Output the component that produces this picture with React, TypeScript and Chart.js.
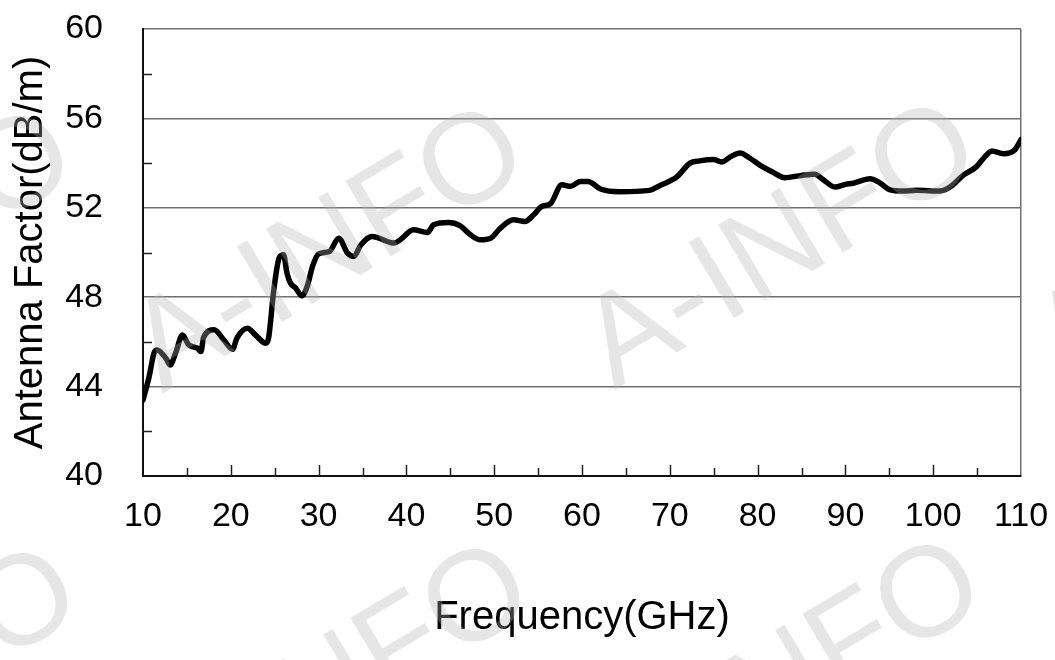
import { useEffect, useRef } from 'react'
import { Chart, registerables } from 'chart.js'

Chart.register(...registerables)

// frequency (GHz) and antenna factor (dB/m)
const freq = [
  10.0, 10.7, 11.25, 11.6, 12.6, 13.1, 13.7, 14.5, 15.2, 16.2, 16.6, 16.9, 18.1, 19.2, 20.2, 20.7,
  21.9, 22.8, 24.0, 24.3, 24.9, 25.5, 26.0, 26.4, 26.8, 27.4, 28.1, 28.7, 29.3, 30.0, 31.2, 32.3,
  33.3, 34.0, 34.8, 36.1, 36.8, 38.6, 39.3, 40.8, 42.4, 43.1, 44.8, 46.1, 47.3, 48.4, 49.6, 50.7,
  52.2, 53.5, 54.5, 55.4, 56.4, 57.7, 58.7, 59.8, 60.7, 62.1, 64.3, 67.7, 68.9, 70.8, 72.3, 73.4,
  75.0, 75.9, 77.0, 78.0, 79.0, 80.3, 81.7, 83.1, 85.0, 86.5, 87.5, 88.8, 90.0, 90.9, 92.8, 93.8,
  95.1, 96.5, 98.1, 100.8, 102.0, 103.4, 104.9, 105.7, 106.7, 108.0, 109.3, 110.0,
]
const antennaFactor = [
  43.4, 44.45, 45.5, 45.64, 45.27, 44.97, 45.49, 46.31, 45.87, 45.72, 45.57, 46.2, 46.54, 46.09, 45.67, 46.17,
  46.61, 46.31, 45.94, 46.17, 48.33, 49.75, 49.9, 49.08, 48.63, 48.4, 48.06, 48.48, 49.37, 49.94, 50.04, 50.64,
  49.97, 49.82, 50.34, 50.72, 50.65, 50.42, 50.57, 51.02, 50.9, 51.24, 51.34, 51.2, 50.79, 50.57, 50.64, 51.09,
  51.46, 51.39, 51.69, 52.06, 52.18, 53.03, 52.96, 53.18, 53.18, 52.84, 52.72, 52.78, 53.0, 53.38, 54.0, 54.1,
  54.16, 54.05, 54.3, 54.45, 54.25, 53.9, 53.6, 53.35, 53.45, 53.5, 53.25, 52.93, 53.05, 53.1, 53.3, 53.15,
  52.8, 52.75, 52.78, 52.75, 52.95, 53.45, 53.83, 54.2, 54.54, 54.42, 54.6, 55.05,
]

const xRange = [10, 110]
const yRange = [40, 60]
const watermark = 'A-INFO'

const FONT = "'Liberation Sans', Arial, sans-serif"

// tick marks point into the plot, like the original
const inwardTicks = {
  id: 'inwardTicks',
  beforeDatasetsDraw(chart: any) {
    const { ctx, chartArea, scales } = chart
    const x = scales.x
    const y = scales.y
    ctx.save()
    ctx.strokeStyle = '#222'
    ctx.lineWidth = 1.5
    ctx.beginPath()
    for (let v = x.min + 5; v < x.max; v += 5) {
      const px = Math.round(x.getPixelForValue(v)) + 0.5
      const len = v % 10 === 0 ? 11 : 8
      ctx.moveTo(px, chartArea.bottom)
      ctx.lineTo(px, chartArea.bottom - len)
    }
    for (let v = y.min + 2; v < y.max; v += 4) {
      const py = Math.round(y.getPixelForValue(v)) + 0.5
      ctx.moveTo(chartArea.left, py)
      ctx.lineTo(chartArea.left + 9, py)
    }
    ctx.stroke()
    ctx.restore()
  },
}

const watermarkPlugin = {
  id: 'watermark',
  afterDraw(chart: any) {
    const { ctx } = chart
    ctx.save()
    ctx.font = `128px ${FONT}`
    ctx.fillStyle = 'rgba(180,180,180,0.33)'
    ctx.textAlign = 'center'
    ctx.textBaseline = 'middle'
    for (let i = -1; i <= 2; i++) {
      for (let j = -1; j <= 1; j++) {
        ctx.save()
        ctx.translate(330 + 452 * i + 5 * j, 252 - 4 * i + 437 * j)
        ctx.rotate((-31 * Math.PI) / 180)
        ctx.fillText(watermark, 0, 0)
        ctx.restore()
      }
    }
    ctx.restore()
  },
}

function AntennaChart() {
  const canvasRef = useRef<HTMLCanvasElement>(null)

  useEffect(() => {
    if (!canvasRef.current) return

    const chart = new Chart(canvasRef.current, {
      type: 'line',
      data: {
        datasets: [
          {
            data: freq.map((f, i) => ({ x: f, y: antennaFactor[i] })),
            borderColor: '#000',
            borderWidth: 5.5,
            pointRadius: 0,
            cubicInterpolationMode: 'monotone',
            borderCapStyle: 'round',
            borderJoinStyle: 'round',
            fill: false,
          },
        ],
      },
      options: {
        animation: false,
        responsive: true,
        maintainAspectRatio: false,
        layout: { padding: { left: 0, right: 34, top: 29, bottom: 0 } },
        plugins: {
          legend: { display: false },
          tooltip: { enabled: false },
        },
        scales: {
          x: {
            type: 'linear',
            min: xRange[0],
            max: xRange[1],
            afterFit: (scale: any) => {
              scale.height = 184
            },
            ticks: {
              stepSize: 10,
              color: '#000',
              padding: 0,
              maxRotation: 0,
              font: { family: FONT, size: 34 },
            },
            grid: {
              drawTicks: true,
              tickLength: 20,
              tickColor: 'rgba(0,0,0,0)',
              lineWidth: 1.5,
              color: (ctx: any) => (ctx.tick && ctx.tick.value === xRange[1] ? '#707070' : 'rgba(0,0,0,0)'),
            },
            border: { color: '#111', width: 2 },
            title: {
              display: true,
              text: 'Frequency(GHz)',
              color: '#000',
              font: { family: FONT, size: 40 },
              padding: { top: 0, bottom: 18 },
            },
          },
          y: {
            min: yRange[0],
            max: yRange[1],
            afterFit: (scale: any) => {
              scale.width = 143
            },
            ticks: {
              stepSize: 4,
              color: '#000',
              padding: 0,
              font: { family: FONT, size: 34 },
            },
            grid: {
              drawTicks: true,
              tickLength: 40,
              tickColor: 'rgba(0,0,0,0)',
              lineWidth: 1.5,
              color: (ctx: any) => (ctx.tick && ctx.tick.value === yRange[0] ? 'rgba(0,0,0,0)' : '#707070'),
            },
            border: { color: '#111', width: 2 },
            title: {
              display: true,
              text: 'Antenna Factor(dB/m)',
              color: '#000',
              font: { family: FONT, size: 40 },
              padding: { top: 7, bottom: 0 },
            },
          },
        },
      },
      plugins: [inwardTicks, watermarkPlugin],
    })

    return () => chart.destroy()
  }, [])

  return <canvas ref={canvasRef} />
}

export default function App() {
  return (
    <div style={{ position: 'absolute', left: 0, top: 0, width: 1055, height: 660, background: '#fff' }}>
      <AntennaChart />
    </div>
  )
}
